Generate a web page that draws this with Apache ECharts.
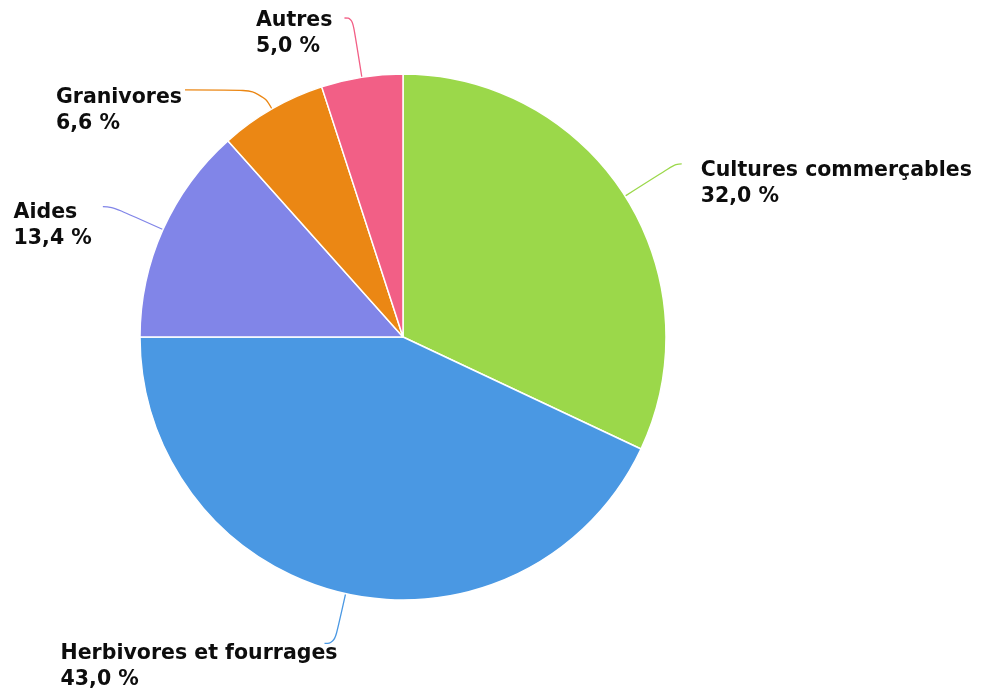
<!DOCTYPE html>
<html><head><meta charset="utf-8">
<script src="https://cdn.jsdelivr.net/npm/echarts@6/dist/echarts.min.js"></script>
<style>html,body{margin:0;padding:0;background:#fff}#c{width:985px;height:693px}</style>
</head><body><div id="c"></div>
<script>
const categories = ['Cultures commerçables', 'Herbivores et fourrages', 'Aides', 'Granivores', 'Autres'];
const values = [32.0, 43.0, 13.4, 6.6, 5.0];
const colors = ['#9bd84a', '#4a98e3', '#8185e8', '#eb8714', '#f25f86'];
// label line styling per slice (radial length, horizontal length)
const lineLen = [60, 51, 56, 22, 60];
const lineLen2 = [6, 10, 9, 76, 8];
// gap between line end and text, vertical offset of first text line
const labelGap = [19, -13, 11, 3, 12];
const labelDy = [7, 10, 6, 8, 3];

const LH = 26;
const CX = 403;
const chart = echarts.init(document.getElementById('c'), null, {renderer: 'canvas'});
chart.setOption({
  animation: false,
  series: [{
    type: 'pie',
    center: [CX, 337],
    radius: 263,
    startAngle: 90,
    clockwise: true,
    avoidLabelOverlap: false,
    data: categories.map((n, i) => ({
      name: n, value: values[i], itemStyle: {color: colors[i]},
      labelLine: {length: lineLen[i], length2: lineLen2[i]}
    })),
    itemStyle: {borderColor: '#fff', borderWidth: 1.5},
    label: {
      formatter: p => p.name + '\n' + p.value.toFixed(1).replace('.', ',') + ' %',
      fontFamily: 'DejaVu Sans',
      fontWeight: 'bold',
      fontSize: 20.5,
      lineHeight: LH,
      color: '#0d0d0d'
    },
    labelLine: {smooth: 0.5, lineStyle: {width: 1.3}},
    labelLayout: function (params) {
      const pts = params.labelLinePoints;
      if (!pts) return {};
      const end = pts[pts.length - 1];
      const i = params.dataIndex;
      const w = params.labelRect.width;
      const isLeft = end[0] < CX;
      const x = isLeft ? end[0] - labelGap[i] - w : end[0] + labelGap[i];
      const y = end[1] + labelDy[i] - LH / 2;
      return {x: x, y: y, align: 'left', verticalAlign: 'top', labelLinePoints: pts};
    }
  }]
});
</script></body></html>
